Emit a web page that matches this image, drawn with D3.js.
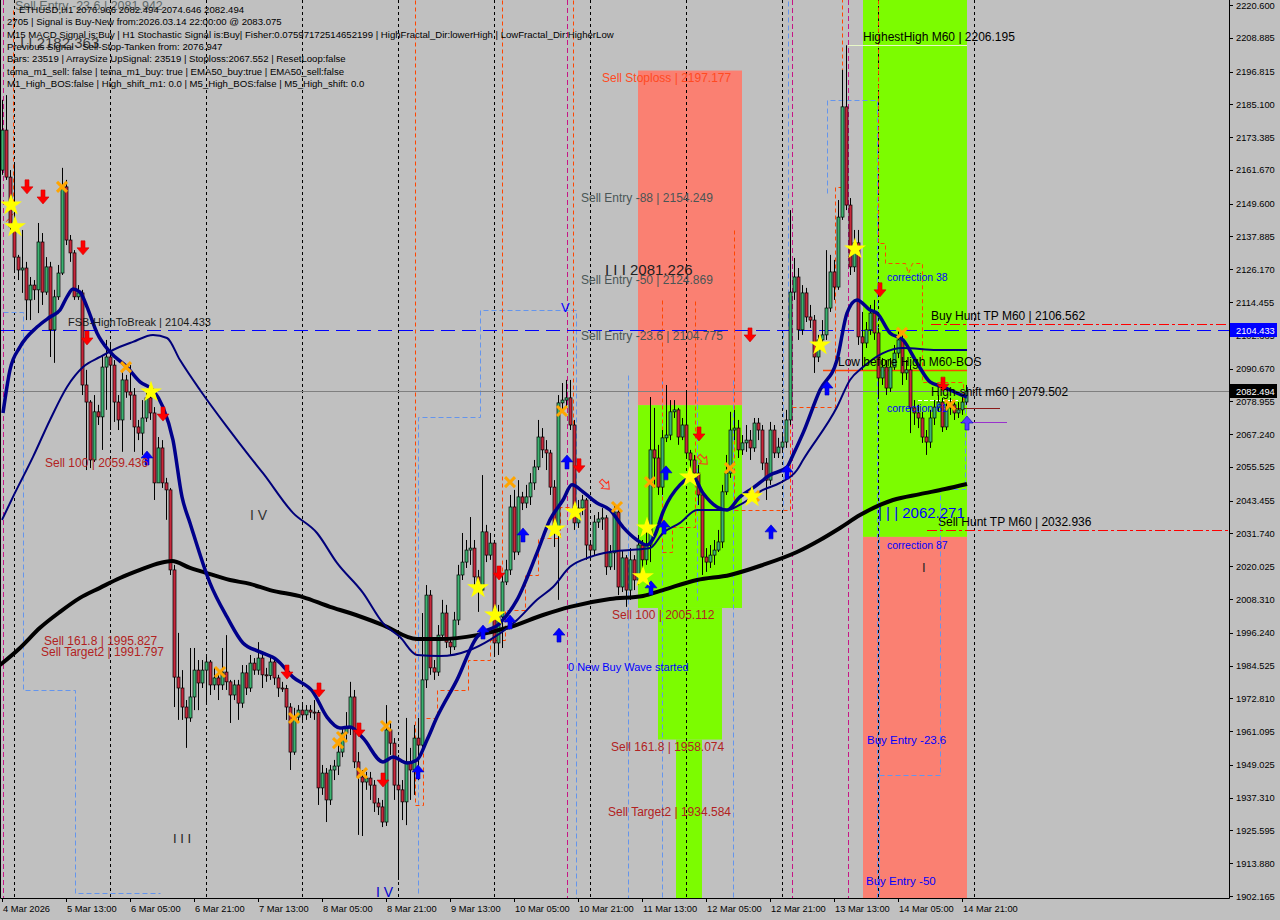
<!DOCTYPE html>
<html><head><meta charset="utf-8">
<script src="https://cdn.jsdelivr.net/npm/d3@7/dist/d3.min.js"></script>
<style>body{margin:0;background:#c0c0c0;}svg{display:block;}</style>
</head><body>
<svg id="c" width="1280" height="920"></svg>
<script>
// ===== DATA =====
const firstOpen = 2161.6;
const closes = [2175.9,2159.1,2141.3,2130.5,2125.9,2126.6,2115.2,2120.5,2118.8,2135.9,
2118.0,2127.0,2104.5,2116.3,2124.8,2155.6,2136.6,2132.0,2116.3,2117.7,
2084.8,2078.7,2058.0,2075.2,2073.4,2091.2,2094.8,2091.9,2078.7,2072.3,
2086.6,2082.3,2081.2,2069.8,2067.6,2073.0,2080.2,2074.8,2049.8,2062.3,
2049.8,2047.3,2018.7,1980.4,1976.5,1969.7,1965.8,1973.3,1982.9,1978.3,
1982.9,1985.8,1977.6,1980.1,1977.6,1982.2,1978.7,1974.0,1977.6,1971.1,
1981.9,1976.5,1985.4,1982.9,1987.2,1981.2,1981.0,1985.8,1980.1,1976.5,
1976.3,1969.7,1953.6,1966.1,1968.6,1966.9,1968.6,1967.9,1967.7,1940.8,
1946.1,1936.5,1947.2,1948.6,1953.6,1960.4,1962.2,1973.3,1950.1,1944.7,
1942.9,1944.3,1941.8,1935.4,1934.0,1928.6,1961.5,1956.8,1941.8,1940.1,
1935.8,1950.1,1947.2,1958.6,1956.1,1979.4,2009.7,1983.7,1982.2,1995.4,
2003.3,1992.9,1991.2,2000.8,2016.9,2021.5,2025.8,2026.5,2016.2,2011.5,
2032.3,2024.0,2028.3,1992.6,2001.9,2014.4,2018.7,2041.2,2025.1,2044.8,
2042.6,2044.8,2049.8,2055.5,2066.2,2061.6,2060.5,2048.3,2033.0,2078.4,
2079.4,2080.2,2070.5,2035.5,2040.8,2043.7,2027.6,2025.8,2035.8,2036.9,
2037.3,2019.8,2024.8,2039.4,2012.6,2023.0,2011.5,2022.3,2015.1,2027.6,
2022.3,2027.6,2061.6,2058.7,2048.3,2065.9,2066.9,2075.2,2075.9,2066.2,
2070.5,2060.5,2058.0,2053.3,2045.5,2023.3,2021.5,2024.0,2025.8,2028.7,
2046.6,2053.3,2068.7,2069.4,2061.6,2064.1,2065.1,2062.3,2071.2,2068.7,
2056.9,2050.8,2068.7,2060.5,2062.6,2064.4,2072.3,2118.0,2123.4,2104.5,
2117.7,2109.1,2108.0,2094.8,2100.9,2102.7,2112.3,2125.2,2119.8,2144.8,
2184.2,2149.1,2127.0,2135.6,2102.0,2099.8,2104.5,2110.5,2103.4,2087.3,
2091.2,2083.7,2091.2,2096.2,2100.9,2089.1,2090.2,2076.6,2074.8,2073.0,
2066.2,2064.4,2073.0,2076.9,2078.7,2069.8,2076.6,2077.7,2074.8,2075.9,
2078.7,2082.5];
const highs = [2186.7,2188.4,2161.6,2163.4,2131.3,2140.2,2128.8,2123.4,2122.3,2142.7,
2139.1,2130.5,2128.8,2118.8,2127.7,2162.4,2158.1,2138.4,2133.0,2120.5,
2118.8,2090.2,2079.4,2081.2,2077.7,2095.5,2100.9,2099.1,2093.7,2081.2,
2089.4,2088.4,2091.9,2083.7,2072.3,2079.4,2083.0,2081.2,2076.9,2066.2,
2065.1,2051.6,2048.0,2020.5,1996.2,1982.9,1972.2,1990.8,1990.8,1986.5,
1986.5,1987.6,1986.5,1983.7,1982.2,1990.8,1995.4,1979.4,1979.4,1979.4,
1984.7,1984.7,1988.3,1987.2,1992.9,1989.4,1983.7,1988.3,1986.5,1981.2,
1978.7,1977.6,1971.1,1969.4,1970.4,1970.4,1970.4,1970.4,1972.2,1968.6,
1949.0,1947.9,1949.0,1950.8,1956.1,1962.2,1967.9,1978.7,1975.8,1953.6,
1947.2,1946.5,1946.5,1943.6,1937.2,1936.5,1970.4,1964.4,1958.6,1952.6,
1943.6,1965.8,1955.1,1963.3,1965.8,2003.3,2013.3,2011.5,1986.5,1999.0,
2008.0,2006.2,1994.4,2003.7,2020.5,2031.9,2029.4,2037.6,2029.4,2018.7,
2052.6,2034.8,2031.9,2029.4,2006.2,2016.9,2022.3,2045.5,2047.3,2050.8,
2046.6,2049.1,2053.3,2058.0,2072.3,2069.4,2065.1,2061.6,2050.8,2081.2,
2085.5,2086.6,2086.6,2072.3,2043.7,2045.5,2044.4,2029.4,2038.3,2039.4,
2040.8,2038.3,2027.6,2041.9,2041.9,2025.8,2024.0,2026.5,2024.0,2031.2,
2029.4,2034.8,2080.5,2076.6,2063.4,2068.7,2084.8,2079.4,2079.4,2076.6,
2073.0,2083.0,2061.6,2059.8,2056.2,2047.3,2026.5,2027.6,2029.4,2033.0,
2049.1,2059.8,2075.2,2075.9,2072.3,2066.9,2070.5,2068.7,2073.0,2073.0,
2070.5,2058.7,2071.6,2070.5,2065.9,2066.9,2075.9,2147.3,2130.2,2126.6,
2120.5,2119.5,2113.4,2109.8,2102.7,2108.0,2133.0,2131.3,2129.5,2150.9,
2197.4,2206.2,2151.6,2140.2,2140.2,2110.9,2107.3,2113.4,2115.2,2105.2,
2094.4,2093.7,2094.4,2099.1,2104.5,2102.7,2093.7,2091.9,2079.4,2077.7,
2075.2,2068.7,2075.9,2079.4,2081.2,2080.2,2079.4,2080.2,2079.4,2078.7,
2081.2,2084.8];
const lows = [2159.9,2158.1,2140.2,2125.9,2122.3,2117.7,2108.0,2108.0,2115.2,2110.5,
2113.4,2117.0,2094.8,2092.7,2115.2,2124.1,2134.8,2128.8,2115.2,2115.2,
2081.2,2054.4,2055.1,2057.3,2070.5,2061.6,2075.9,2068.7,2071.6,2068.7,
2060.9,2080.2,2072.3,2060.9,2065.1,2059.8,2071.6,2072.3,2043.7,2058.0,
2048.0,2036.6,2016.9,1969.7,1965.1,1965.1,1955.1,1964.4,1968.6,1968.6,
1976.5,1971.1,1974.0,1975.8,1972.2,1975.8,1975.8,1964.0,1972.2,1965.1,
1969.4,1974.0,1975.1,1981.2,1981.2,1976.5,1978.7,1979.4,1977.6,1973.3,
1975.1,1965.1,1947.2,1952.6,1964.4,1964.4,1965.1,1965.8,1965.1,1934.7,
1938.3,1928.6,1934.7,1943.6,1945.4,1951.8,1957.9,1959.7,1947.9,1924.0,
1923.6,1940.1,1936.5,1932.2,1931.1,1926.8,1927.2,1952.6,1936.5,1907.9,
1929.3,1927.5,1936.5,1938.3,1943.6,1955.1,1976.5,1981.2,1979.4,1980.8,
1993.7,1990.8,1988.3,1990.1,1999.0,2015.1,2019.4,2020.5,2011.5,2003.7,
2009.7,2021.5,2022.3,1988.3,1988.3,1990.8,2013.3,2016.9,2022.3,2024.0,
2040.1,2040.8,2041.9,2047.3,2054.4,2058.7,2054.4,2045.5,2026.9,2008.0,
2075.9,2076.9,2068.7,2033.0,2033.7,2038.3,2022.3,2023.0,2024.0,2033.7,
2033.0,2016.9,2018.7,2018.7,2009.7,2010.8,2005.5,2008.0,2011.5,2013.3,
2018.7,2020.5,2021.5,2048.0,2045.5,2045.5,2064.4,2065.1,2073.0,2063.4,
2065.1,2058.7,2054.4,2050.8,2041.9,2016.9,2018.0,2019.4,2020.5,2025.1,
2026.5,2045.5,2051.6,2065.1,2058.7,2059.8,2060.9,2058.0,2060.9,2065.1,
2054.4,2043.7,2049.1,2058.7,2058.7,2061.6,2062.3,2070.5,2115.2,2100.9,
2102.7,2107.3,2105.2,2089.1,2093.0,2097.3,2100.9,2110.9,2115.2,2118.8,
2143.8,2147.3,2124.1,2125.2,2099.1,2090.2,2098.0,2102.7,2100.9,2080.5,
2084.8,2081.2,2082.3,2090.2,2094.4,2084.8,2086.6,2067.6,2070.5,2069.4,
2064.1,2059.8,2062.3,2070.5,2075.2,2068.0,2068.7,2074.1,2072.3,2073.0,
2074.1,2077.7];

// moving averages: [bar, price]
const maSlow200 = [[-0.5,1984.7],[4.5,1990.8],[9.5,1998.0],[14.5,2003.7],[19.5,2008.7],[24.5,2012.3],[29.5,2015.8],[34.5,2018.7],[39.5,2021.2],[42.5,2021.9],[47,2019.4],[50.25,2018.0],[57,2015.1],[62,2013.7],[67,2011.5],[75.25,2009.0],[82,2005.5],[87,2003.3],[95.25,1999.0],[103.75,1994.0],[109.5,1994.0],[118.75,1995.4],[127,1998.3],[135.25,2002.6],[142,2005.5],[152,2008.3],[160.25,2009.4],[165.25,2011.5],[173.75,2015.1],[182,2016.9],[190.25,2020.5],[198.75,2025.1],[204.5,2029.4],[209.5,2033.7],[214.5,2038.3],[222.75,2043.7],[229.5,2045.8],[235.75,2047.6],[241.25,2049.4]];
const maFast = [[0.25,2074.8],[2,2090.2],[4.5,2098.4],[8.75,2105.5],[12,2109.1],[14.5,2111.6],[16.25,2116.3],[17.75,2119.1],[19.5,2118.0],[21.25,2112.7],[23.75,2103.4],[27,2096.6],[31.25,2091.2],[34.5,2085.9],[37.75,2083.0],[40.25,2076.9],[42.75,2065.1],[45,2044.8],[47,2035.5],[52,2014.0],[56.25,2001.9],[60.25,1992.6],[64.5,1989.4],[68.75,1986.5],[72.75,1980.4],[77.75,1975.1],[81.25,1966.1],[84.5,1962.2],[87,1962.6],[90.25,1958.6],[95.25,1950.1],[97.75,1951.8],[101.25,1949.7],[103.75,1950.8],[106.25,1957.9],[108.75,1966.1],[113.75,1979.4],[118.75,1994.7],[124.5,1999.7],[128.75,2008.0],[133.75,2024.8],[137,2036.6],[140.25,2043.7],[142.5,2049.1],[145.25,2046.6],[148.75,2042.6],[152,2040.1],[155.25,2034.0],[158.75,2029.4],[161.25,2027.6],[163.25,2031.2],[165.25,2039.4],[169.5,2049.1],[172.75,2051.9],[175.25,2046.2],[178.75,2041.2],[181.25,2040.1],[184.5,2044.8],[187.75,2048.0],[192,2052.6],[196.25,2055.5],[197.75,2059.8],[200.25,2067.6],[204.5,2083.0],[208.75,2093.7],[211.25,2110.5],[213.75,2115.2],[217,2111.6],[218.75,2110.5],[222,2103.4],[225.25,2100.9],[228.75,2092.7],[232,2085.9],[235.25,2084.1],[238.75,2081.9],[241.25,2080.5]];
const maMid = [[0,2036.6],[2.75,2044.8],[7.75,2059.1],[12,2072.3],[16.25,2084.1],[20.25,2091.2],[24.5,2094.8],[27.75,2097.3],[32.75,2100.2],[37.75,2102.7],[41.25,2101.6],[44.5,2093.7],[49.5,2083.0],[56.25,2069.8],[62,2059.1],[65.25,2053.3],[72.75,2039.1],[78.75,2031.9],[83.75,2021.2],[90.25,2010.5],[95.25,1999.7],[99.5,1994.7],[103.75,1988.3],[109.5,1987.9],[117,1990.1],[122,1993.7],[128.75,2000.8],[133.75,2008.0],[137.75,2012.6],[142,2019.8],[147,2023.3],[152,2025.1],[157,2025.8],[162,2026.5],[165.25,2031.9],[169.5,2035.5],[173.75,2040.1],[181.25,2040.1],[185.25,2042.6],[190.25,2047.3],[194.5,2049.8],[198.75,2054.4],[200.25,2058.0],[208.75,2076.9],[212,2086.6],[215.25,2091.2],[220.25,2096.2],[225.25,2098.0],[233.75,2097.3],[241.25,2097.3]];

// zones [barFrom, barTo, priceTop, priceBottom, colour]
const zones = [
 [159,185,2197.177,2077.6,"#fa8072"],
 [159,185,2077.6,2005.112,"#7cfc00"],
 [164,180,2005.112,1958.074,"#7cfc00"],
 [168.5,175,1958.074,1890,"#7cfc00"],
 [215.25,241.25,2230,2030.5,"#7cfc00"],
 [215.25,241.25,2030.5,1890,"#fa8072"]
];

// stepped dashed lines [bar, price]
const orangeSteps = [
 [[2.63,2218.8],[2.63,2146.3],[0.75,2143.1]],
 [[103.25,2225],[103.25,1934.7],[105.25,1934.7],[105.25,1965.8],[108.75,1965.8],[108.75,1975.8],[116.5,1975.8],[116.5,1986.5],[122,1986.5],[122,1993.7],[125.75,1993.7],[125.75,2004.4],[130.75,2004.4],[130.75,2016.9],[134,2016.9],[134,2030.1],[139.5,2030.1],[139.5,2041.2],[142.75,2041.2],[142.75,2225]],
 [[125,2225],[125,1993.7]],
 [[165,2115.2],[165,2025.1],[167.5,2025.1],[167.5,2034.0],[173.25,2034.0],[173.25,2115.2]],
 [[183,2140.2],[183,2040.1],[197,2040.1],[197,2076.9],[208.25,2076.9],[208.25,2155.6],[210,2155.6],[210,2225]],
 [[219,2225],[219,2135.6],[220.75,2135.6],[220.75,2128.4],[225.75,2128.4],[226.5,2124.8],[227.5,2128.4],[230,2128.4],[230,2085.9],[240.25,2085.9],[240.25,2079.4]]
];
const blueSteps = [
 [[0.25,2110.9],[5.25,2110.9],[5.25,1975.8],[18.25,1975.8],[18.25,1903.2],[39.5,1903.2]],
 [[104,1903.2],[104,2073.4],[119.5,2073.4],[119.5,2111.6],[143.5,2111.6],[143.5,1900]],
 [[156.5,2088.4],[156.5,1900]],
 [[165,2086.6],[165,1900]],
 [[173.75,2086.6],[173.75,2008.0]],
 [[182.75,2086.6],[182.75,1900]],
 [[196.5,2225],[196.5,2104.5],[195.25,2104.5],[195.25,2040.1]],
 [[206.25,2153.4],[206.25,2186.7],[218.75,2186.7],[218.75,1900]],
 [[219.25,2047.5],[219.25,1900]],
 [[219.25,1945.4],[234.5,1945.4],[234.5,2047.5],[240.75,2047.5],[240.75,2079.4]]
];
const magentaBars = [0.25,141.25,197.5,211.5];
const dayBars = [3,27,51,75,99,123,147,171,195,219,243];

// markers [bar, price]
const redDown = [[6.25,2155.6],[10.25,2152.0],[20.25,2133.8],[21.25,2101.6],[40.25,2074.4],[71.25,1982.2],[79.25,1975.8],[89.25,1961.5],[95.25,1943.6],[124.25,2017.6],[144.25,2055.9],[174.25,2067.3],[187,2102.7],[219.5,2118.8],[235.25,2085.1]];
const blueUp = [[36.25,2058.7],[104,1946.5],[120.25,1996.5],[127,2000.1],[130.25,2031.2],[139.25,1995.4],[141.25,2057.3],[162.25,2012.3],[165.5,2034.0],[166,2053.4],[192.25,2032.3],[196.25,2053.7],[206.25,2083.7],[241.25,2071.2]];
const orangeX = [[15,2155.6],[31,2091.2],[54.5,1982.2],[73,1965.8],[85,1959.0],[84,1956.8],[90,1946.1],[96,1962.9],[127,2050.1],[140,2075.5],[153.75,2041.2],[162,2050.1],[182,2055.1],[188,2045.1],[225,2103.4],[237,2077.7]];
const stars = [[2.25,2149.1],[3.25,2141.3],[37.25,2082.3],[119,2012.3],[123.25,2002.6],[138.25,2033.3],[143.25,2039.4],[161.25,2033.7],[160.25,2016.2],[172,2051.9],[187.5,2044.8],[204.5,2099.1],[213.25,2133.4]];
const hollowArrows = [[150.75,2049.1],[175.25,2058.0]];

// price & time axis
const priceTicks = [2220.600,2208.885,2196.815,2185.100,2173.385,2161.670,2149.600,2137.885,2126.170,2114.455,2102.385,2090.670,2078.955,2067.240,2055.525,2043.455,2031.740,2020.025,2008.310,1996.240,1984.525,1972.810,1961.095,1949.025,1937.310,1925.595,1913.880,1902.165];
const timeLabels = ["4 Mar 2026","5 Mar 13:00","6 Mar 05:00","6 Mar 21:00","7 Mar 13:00","8 Mar 05:00","8 Mar 21:00","9 Mar 13:00","10 Mar 05:00","10 Mar 21:00","11 Mar 13:00","12 Mar 05:00","12 Mar 21:00","13 Mar 13:00","14 Mar 05:00","14 Mar 21:00"];
const timeLabelBars = [0,16,32,48,64,80,96,112,128,144,160,176,192,208,224,240];

const infoLines = [
 "ETHUSD,H1  2076.966 2082.494 2074.646 2082.494",
 "2705 | Signal is Buy-New from:2026.03.14 22:00:00 @ 2083.075",
 "M15 MACD Signal is:Buy | H1 Stochastic Signal is:Buy| Fisher:0.07597172514652199 | HighFractal_Dir:lowerHigh | LowFractal_Dir:HigherLow",
 "Previous Signal - Sell-Stop-Tanken from: 2076.947",
 "Bars: 23519 | ArraySize UpSignal: 23519 | Stoploss:2067.552 | ResetLoop:false",
 "tema_m1_sell: false | tema_m1_buy: true | EMA50_buy:true | EMA50_sell:false",
 "M1_High_BOS:false | High_shift_m1: 0.0 | M5_High_BOS:false | M5_High_shift: 0.0"
];

// text labels [text, bar, price, colour, size, anchor('top'|'bottom'|'base')]
const labels = [
 ["Sell Stoploss | 2197.177",150,2197.177,"#ff4a22",12,"top"],
 ["Sell Entry -88 | 2154.249",144.75,2154.249,"#4a5656",12,"top"],
 ["Sell Entry -50 | 2124.869",144.75,2124.869,"#4a5656",12,"top"],
 ["Sell Entry -23.6 | 2104.775",144.75,2104.775,"#4a5656",12,"top"],
 ["Sell 100 | 2059.436",10.75,2059.436,"#b22222",12,"top"],
 ["Sell 161.8 | 1995.827",10.5,1995.827,"#b22222",12,"top"],
 ["Sell Target2 | 1991.797",9.75,1991.797,"#b22222",12,"top"],
 ["Sell 100 | 2005.112",152.5,2005.112,"#b22222",12,"top"],
 ["Sell 161.8 | 1958.074",152.25,1958.074,"#b22222",12,"top"],
 ["Sell Target2 | 1934.584",151.5,1934.584,"#b22222",12,"top"],
 ["HighestHigh   M60 | 2206.195",215.25,2206.195,"#000000",12,"bottom"],
 ["Buy Hunt TP M60 | 2106.562",232.25,2106.562,"#000000",12,"bottom"],
 ["Low before High   M60-BOS",209,2090.2,"#000000",12,"bottom"],
 ["High-shift m60 | 2079.502",232.25,2079.502,"#000000",12,"bottom"],
 ["Sell Hunt TP M60 | 2032.936",234,2032.936,"#000000",12,"bottom"],
 ["FSB-HighToBreak | 2104.433",16.5,2104.433,"#1a1a1a",11,"bottom"],
 ["correction 38",221.25,2125.5,"#0000ff",10.5,"top"],
 ["correction 61",221.25,2078.7,"#0000ff",10.5,"top"],
 ["correction 87",221.25,2029.8,"#0000ff",10.5,"top"],
 ["| | |  2062.271",219,2037.3,"#0000ff",15,"base"],
 ["Buy Entry -23.6",216.25,1960.1,"#0000ff",11.5,"top"],
 ["Buy Entry -50",216,1910.0,"#0000ff",11.5,"top"],
 ["0 New Buy Wave started",141.5,1986.2,"#0000ff",11,"top"],
 ["I I I  2081.226",150.75,2124.1,"#222222",15,"base"],
 ["I V",62,2036.6,"#333333",14,"base"],
 ["I I I",42.75,1921.1,"#222222",13,"base"],
 ["I V",93.5,1901.8,"#0000cc",14,"base"],
 ["V",139.75,2110.9,"#0000ff",13,"base"],
 ["I",230,2018.0,"#222222",13,"base"]
];

// ===== DRAW =====
const svg = d3.select("#c");
const PR = 1229, PB = 898;
const x = d3.scaleLinear().domain([0,241]).range([2,966]);
const y = d3.scaleLinear().domain([1902.165,2220.6]).range([896,5]);
const FONT = "'Liberation Sans', Arial, sans-serif";

svg.append("rect").attr("width",1280).attr("height",920).attr("fill","#c0c0c0");
svg.append("clipPath").attr("id","pc").append("rect").attr("x",0).attr("y",0).attr("width",PR).attr("height",PB);
const g = svg.append("g").attr("clip-path","url(#pc)");

// zones
g.selectAll(".zone").data(zones).join("rect")
 .attr("x",d=>x(d[0])).attr("width",d=>x(d[1])-x(d[0]))
 .attr("y",d=>y(d[2])).attr("height",d=>y(d[3])-y(d[2]))
 .attr("fill",d=>d[4]);

// day separators
g.selectAll(".day").data(dayBars).join("line")
 .attr("x1",d=>Math.round(x(d))+0.5).attr("x2",d=>Math.round(x(d))+0.5)
 .attr("y1",0).attr("y2",PB).attr("stroke","#000").attr("stroke-width",1).attr("stroke-dasharray","3,3");

// magenta verticals
g.selectAll(".mag").data(magentaBars).join("line")
 .attr("x1",d=>Math.round(x(d))+0.5).attr("x2",d=>Math.round(x(d))+0.5)
 .attr("y1",0).attr("y2",PB).attr("stroke","#c71585").attr("stroke-width",1).attr("stroke-dasharray","5,3");

const lineGen = d3.line().x(d=>Math.round(x(d[0]))+0.5).y(d=>Math.round(y(d[1]))+0.5);
g.selectAll(".bstep").data(blueSteps).join("path").attr("d",lineGen)
 .attr("fill","none").attr("stroke","#6495ed").attr("stroke-width",1).attr("stroke-dasharray","5,3");
g.selectAll(".ostep").data(orangeSteps).join("path").attr("d",lineGen)
 .attr("fill","none").attr("stroke","#ff4500").attr("stroke-width",1).attr("stroke-dasharray","4,3");

// horizontal levels
function hline(b0,b1,p,col,w,dash){
 g.append("line").attr("x1",b0===null?0:x(b0)).attr("x2",b1===null?PR:x(b1))
  .attr("y1",Math.round(y(p))+0.5).attr("y2",Math.round(y(p))+0.5)
  .attr("stroke",col).attr("stroke-width",w).attr("stroke-dasharray",dash||null);
}
hline(null,null,2082.494,"#7f7f7f",1);
hline(null,null,2104.433,"#0000ff",1.2,"14,7");
hline(232.25,null,2106.562,"#ff0000",1.2,"10,3,3,3");
hline(231.25,null,2032.936,"#ff0000",1.2,"10,3,3,3");
hline(211.5,241.25,2206.195,"#e8f8c8",1);
hline(205.25,241.25,2090.2,"#ff4500",1.5);
hline(229,239.5,2079.4,"#ffffff",1,"4,2");
hline(238.25,249.5,2076.6,"#8b1a1a",1);
hline(239.5,251.25,2071.6,"#9932cc",1);

// candles
const candles = closes.map((c,i)=>({i,o:i===0?firstOpen:closes[i-1],c,h:highs[i],l:lows[i]}));
const cg = g.append("g");
cg.selectAll("line").data(candles).join("line")
 .attr("x1",d=>Math.round(x(d.i))+0.5).attr("x2",d=>Math.round(x(d.i))+0.5)
 .attr("y1",d=>y(Math.max(d.h,d.o,d.c))).attr("y2",d=>y(Math.min(d.l,d.o,d.c)))
 .attr("stroke","#000").attr("stroke-width",1);
cg.selectAll("rect").data(candles).join("rect")
 .attr("x",d=>Math.round(x(d.i))-1).attr("width",3)
 .attr("y",d=>y(Math.max(d.o,d.c))).attr("height",d=>Math.max(1,Math.abs(y(d.o)-y(d.c))))
 .attr("fill",d=>d.c>=d.o?"#3cb371":"#c8283c").attr("stroke","#000").attr("stroke-width",0.7);

// moving averages
const curve = d3.line().x(d=>x(d[0])).y(d=>y(d[1])).curve(d3.curveMonotoneX);
g.append("path").attr("d",curve(maSlow200)).attr("fill","none").attr("stroke","#000").attr("stroke-width",4);
g.append("path").attr("d",curve(maMid)).attr("fill","none").attr("stroke","#00007a").attr("stroke-width",2);
g.append("path").attr("d",curve(maFast)).attr("fill","none").attr("stroke","#00008b").attr("stroke-width",3.5);

// markers
const mg = g.append("g");
mg.selectAll(".rd").data(redDown).join("path")
 .attr("transform",d=>`translate(${x(d[0])},${y(d[1])})`)
 .attr("d","M-2,-7L2,-7L2,0L6,0L0,7L-6,0L-2,0Z").attr("fill","#ff0000").attr("stroke","#d00000").attr("stroke-width",0.6);
mg.selectAll(".bu").data(blueUp).join("path")
 .attr("transform",d=>`translate(${x(d[0])},${y(d[1])})`)
 .attr("d","M-2,7L2,7L2,0L6,0L0,-7L-6,0L-2,0Z").attr("fill",(d,i)=>i===blueUp.length-1?"#5a3cff":"#0000ff").attr("stroke","#0000c0").attr("stroke-width",0.6);
mg.selectAll(".ox").data(orangeX).join("path")
 .attr("transform",d=>`translate(${x(d[0])},${y(d[1])})`)
 .attr("d","M-5,-5L5,5M-5,5L5,-5").attr("stroke","#ffa500").attr("stroke-width",3).attr("fill","none");
mg.selectAll(".st").data(stars).join("path")
 .attr("transform",d=>`translate(${x(d[0])},${y(d[1])})`)
 .attr("d",d3.symbol(d3.symbolStar,150)).attr("fill","#ffff00");
mg.selectAll(".ha").data(hollowArrows).join("path")
 .attr("transform",d=>`translate(${x(d[0])},${y(d[1])}) rotate(-45)`)
 .attr("d","M-2,-6L2,-6L2,0L5,0L0,6L-5,0L-2,0Z").attr("fill","none").attr("stroke","#ff3020").attr("stroke-width",1);

// labels
g.selectAll(".lbl").data(labels).join("text")
 .attr("x",d=>x(d[1]))
 .attr("y",d=>d[5]==="top"?y(d[2])+d[4]*0.92:(d[5]==="bottom"?y(d[2])-4:y(d[2])))
 .attr("fill",d=>d[3]).attr("font-size",d=>d[4]).attr("font-family",FONT).text(d=>d[0]);

// info block (overlapping texts as in the original)
svg.append("text").attr("x",15).attr("y",10).attr("font-size",12.5).attr("font-family",FONT).attr("fill","#5f6a6a").text("Sell Entry -23.6 | 2081.942");
svg.append("text").attr("x",20).attr("y",48).attr("font-size",15).attr("font-family",FONT).attr("fill","#3a3a3a").text("I I  2182.363");
svg.selectAll(".info").data(infoLines).join("text")
 .attr("x",(d,i)=>i===0?19:7).attr("y",(d,i)=>13+i*12.3).attr("font-size",9.6).attr("font-family",FONT).attr("fill","#000").text(d=>d);

// frame
svg.append("path").attr("d",`M0.5,0V${PB+0.5}H${PR+0.5}V0`).attr("fill","none").attr("stroke","#000").attr("stroke-width",1);

// price axis
const ax = svg.append("g");
ax.selectAll("line").data(priceTicks).join("line")
 .attr("x1",PR).attr("x2",PR+4).attr("y1",d=>Math.round(y(d))+0.5).attr("y2",d=>Math.round(y(d))+0.5).attr("stroke","#000");
ax.selectAll("text").data(priceTicks).join("text")
 .attr("x",PR+7).attr("y",d=>y(d)+3.5).attr("font-size",9.3).attr("font-family",FONT).attr("fill","#000").text(d=>d.toFixed(3));

function priceBox(p,bg){
 const yy=Math.round(y(p));
 svg.append("rect").attr("x",PR+1).attr("y",yy-7).attr("width",47).attr("height",14).attr("fill",bg);
 svg.append("text").attr("x",PR+7).attr("y",yy+3.5).attr("font-size",9.3).attr("font-family",FONT).attr("fill","#fff").text(p.toFixed(3));
}
priceBox(2104.433,"#0000ff");
priceBox(2082.494,"#000000");

// time axis
const tx = svg.append("g");
tx.selectAll("line").data(timeLabelBars).join("line")
 .attr("x1",d=>Math.round(x(d))+0.5).attr("x2",d=>Math.round(x(d))+0.5).attr("y1",PB).attr("y2",PB+4).attr("stroke","#000");
tx.selectAll("text").data(timeLabels).join("text")
 .attr("x",(d,i)=>x(timeLabelBars[i])+1).attr("y",912).attr("font-size",9.3).attr("font-family",FONT).attr("fill","#000").text(d=>d);
</script>
</body></html>
